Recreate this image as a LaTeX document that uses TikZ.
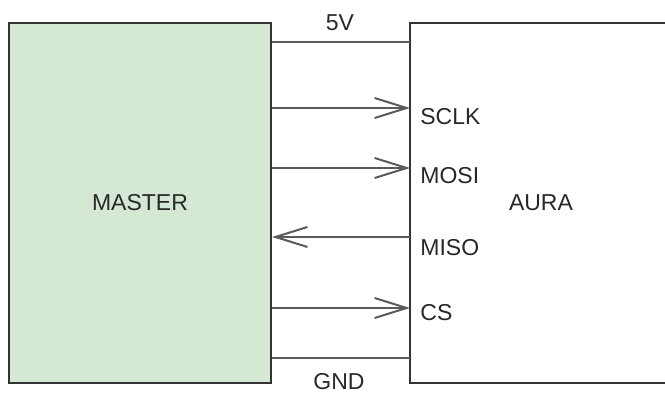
\documentclass[tikz,border=0pt]{standalone}
\usepackage{fontspec}
\setmainfont{Liberation Sans}
\usetikzlibrary{arrows.meta}

\definecolor{boxline}{RGB}{51,51,51}
\definecolor{wire}{RGB}{90,90,90}
\definecolor{mastergreen}{RGB}{213,232,212}
\definecolor{lbltext}{RGB}{40,40,40}

\tikzset{
  chip/.style={draw=boxline, line width=1.1pt, minimum width=131pt, minimum height=180pt, inner sep=0pt, font=\fontsize{11.5}{13}\selectfont, text=lbltext},
  sig/.style={draw=wire, line width=1.1pt},
  sigarrow/.style={sig, -{Straight Barb[length=16pt,width=10pt,line width=1pt]}},
  pinlbl/.style={anchor=west, inner sep=0pt, font=\fontsize{11.5}{13}\selectfont, text=lbltext}
}

\begin{document}
\begin{tikzpicture}[x=0.5pt, y=-0.5pt]

  \useasboundingbox (0,0) rectangle (665,394);
  \clip (0,0) rectangle (665,394);

  % the two chips
  \node[chip, fill=mastergreen] (master) at (140,203) {MASTER};
  \node[chip, fill=white] (aura) at (541,203) {AURA};

  % pins on the aura side
  \coordinate (p5v)  at (410,42);
  \coordinate (psclk) at (410,108);
  \coordinate (pmosi) at (410,168);
  \coordinate (pmiso) at (410,237);
  \coordinate (pcs)   at (410,308);
  \coordinate (pgnd)  at (410,358);

  % wires
  \draw[sig] (master.east |- p5v) -- (p5v);
  \draw[sigarrow] (master.east |- psclk) -- (psclk);
  \draw[sigarrow] (master.east |- pmosi) -- (pmosi);
  \draw[sigarrow] (pmiso) -- (master.east |- pmiso);
  \draw[sigarrow] (master.east |- pcs) -- (pcs);
  \draw[sig] (master.east |- pgnd) -- (pgnd);

  % supply labels
  \node[pinlbl, anchor=center] (l5v) at (340,23) {5V};
  \node[pinlbl, anchor=center] (lgnd) at (339,382) {GND};

  % pin labels
  \node[pinlbl] (lsclk) at (420,117) {SCLK};
  \node[pinlbl] (lmosi) at (420,176) {MOSI};
  \node[pinlbl] (lmiso) at (420,248) {MISO};
  \node[pinlbl] (lcs)   at (420,313) {CS};

\end{tikzpicture}
\end{document}
